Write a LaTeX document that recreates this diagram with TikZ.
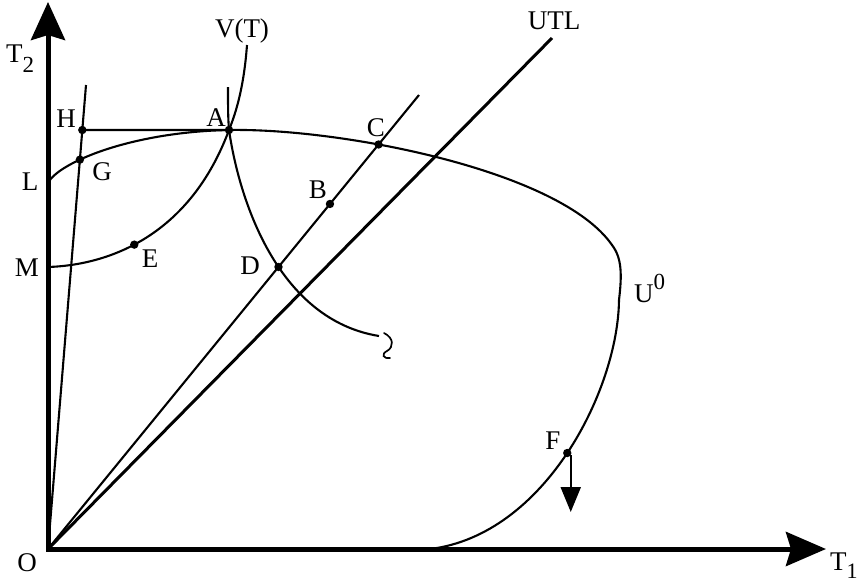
\documentclass[tikz,border=0pt]{standalone}
\usepackage{fontspec}
\setmainfont{Liberation Serif}
\usetikzlibrary{arrows.meta,calc,intersections}
\begin{document}
\begin{tikzpicture}[x=1pt,y=-1pt,
  lbl/.style={inner sep=0pt, font=\fontsize{27}{30}\selectfont},
  thinln/.style={line width=2.1pt},
  dotc/.style={fill=black},
  axisln/.style={line width=5pt, line join=miter}]
\useasboundingbox (0,0) rectangle (865,582);
% key coordinates
\coordinate (O) at (48,549);
\coordinate (Ytip) at (48,2);
\coordinate (Xtip) at (826,549);
\coordinate (UTLend) at (552,38);
\coordinate (OHend) at (86,85);
\coordinate (OCend) at (419,95);
\coordinate (A) at (229,130);
\coordinate (L) at (48,183);
\coordinate (M) at (48,267);
\coordinate (Vtop) at (247,45);
\coordinate (Itop) at (228,87);
\coordinate (Iend) at (379,336);
\coordinate (Ubot) at (430,549);
\coordinate (U1) at (612,245);
\coordinate (U2) at (619,300);
\coordinate (B) at ($(O)!0.76!(OCend)$);
% axes
\draw[axisln, {Stealth[length=38pt,width=34pt,inset=5pt]}-{Stealth[length=40pt,width=34pt,inset=5pt]}] (Ytip) -- (O) -- (Xtip);
% rays from origin
\draw[line width=3pt] (O) -- (UTLend);
\draw[thinln, name path=OH] (O) -- (OHend);
\draw[thinln, name path=OC] (O) -- (OCend);
% U0 frontier
\draw[thinln, name path=U0] (L) .. controls (58,163) and (130,132) .. (A)
   .. controls (340,128) and (560,170) .. (U1)
   .. controls (622,258) and (622,275) .. (U2)
   .. controls (618,390) and (545,535) .. coordinate[pos=0.5] (F) (Ubot);
% V(T) curve
\draw[thinln] (Vtop) .. controls (244,85) and (237,110) .. (A)
   .. controls (190,235) and (110,265) .. coordinate[pos=0.565] (E) (M);
% indifference-like curve
\draw[thinln, name path=IC] (Itop) .. controls (228,105) and (228,118) .. (A)
   .. controls (240,205) and (280,320) .. (Iend);
% points by intersection
\path[name path=HA] (40,130) -- (A);
\path[name intersections={of=OH and HA, by=H}];
\path[name intersections={of=OH and U0, by=G}];
\path[name intersections={of=OC and U0, by=C}];
\path[name intersections={of=OC and IC, by=D}];
% horizontal H--A
\draw[thinln] (H) -- (A);
% small hook symbol at the end
\draw[line width=1.7pt, line cap=round] (384,333) .. controls (394,338) and (394,347) .. (387,351) .. controls (381,354) and (383,359) .. (390,358);
% arrow from F
\coordinate (Fs) at ($(F)+(3.5,2)$);
\coordinate (Fe) at ($(F)+(3.5,59)$);
\draw[line width=2.2pt, -{Triangle[length=25pt,width=20pt]}] (Fs) -- (Fe);
% dots
\foreach \p in {H,G,A,B,C,D,E,F} \fill[dotc] (\p) circle (4.2pt);
% labels
\node[lbl, anchor=base west] (lT2) at (6,62) {T\raisebox{-10pt}{\fontsize{23}{26}\selectfont 2}};
\node[lbl] (lVT) at (242,31) {V(T)};
\node[lbl] (lUTL) at (554,21) {UTL};
\node[lbl] (lH) at (66,119) {H};
\node[lbl] (lA) at (216,118) {A};
\node[lbl] (lC) at (376,128) {C};
\node[lbl] (lG) at (102,172) {G};
\node[lbl] (lL) at (30,182) {L};
\node[lbl] (lB) at (318,190) {B};
\node[lbl] (lM) at (27,268) {M};
\node[lbl] (lE) at (150,259) {E};
\node[lbl] (lD) at (250,266) {D};
\node[lbl] (lF) at (553,441) {F};
\node[lbl, anchor=base west] (lU) at (634,302) {U\raisebox{13pt}{\fontsize{23}{26}\selectfont 0}};
\node[lbl] (lO) at (27,563) {O};
\node[lbl, anchor=base west] (lT1) at (830,570) {T\raisebox{-8pt}{\fontsize{22}{24}\selectfont 1}};
\end{tikzpicture}
\end{document}
